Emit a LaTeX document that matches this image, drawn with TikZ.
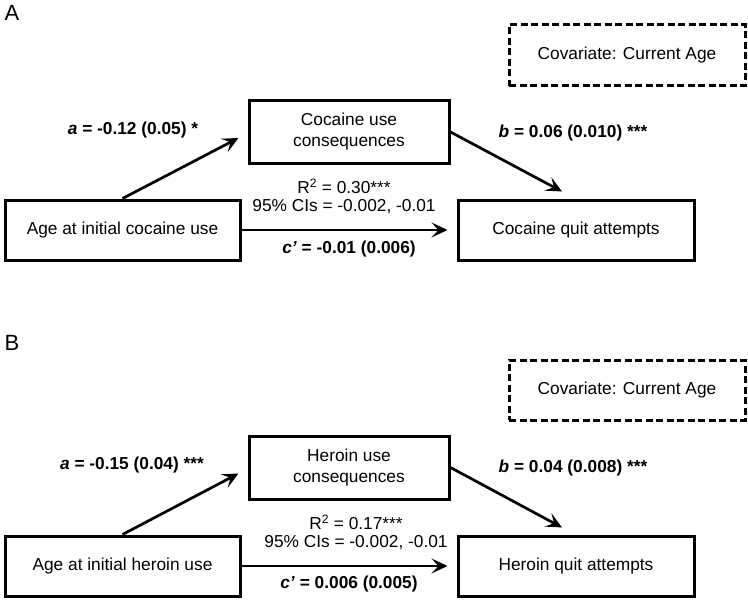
\documentclass[tikz,border=0pt]{standalone}
\usepackage{fontspec}
\setmainfont{Liberation Sans}
\usetikzlibrary{arrows.meta,calc}
\begin{document}
\begin{tikzpicture}[x=1pt,y=-1pt,
  box/.style={draw,line width=3pt,inner sep=0pt,align=center,font=\fontsize{17.3}{21}\selectfont},
  covbox/.style={box,dashed,dash pattern=on 7pt off 3.5pt},
  lab/.style={inner sep=0pt,font=\fontsize{17.3}{21}\selectfont\bfseries},
  stat/.style={inner sep=0pt,align=center,font=\fontsize{17.3}{21}\selectfont},
  panel/.style={inner sep=0pt,font=\fontsize{22}{24}\selectfont},
  arr/.style={line width=2.7pt,-{Stealth[length=16pt,width=15pt,inset=7pt]}}]
\useasboundingbox (0,0) rectangle (748,600);

% ---------- Panel A ----------
\node[panel] (pA) at (12,13) {A};
\node[covbox,minimum width=236pt,minimum height=61pt] (covA) at (627,55) {Covariate: Current Age};
\node[box,minimum width=200pt,minimum height=63pt] (mA) at (349,132) {Cocaine use\\consequences};
\node[box,minimum width=235pt,minimum height=60pt] (xA) at (122.5,230) {Age at initial cocaine use};
\node[box,minimum width=236pt,minimum height=60pt] (yA) at (576,230) {Cocaine quit attempts};
\draw[arr] (xA.north) -- ([xshift=-9pt,yshift=-6pt]mA.west);
\draw[arr] (mA.east) -- ([xshift=-14pt,yshift=7pt]yA.north);
\draw[arr] (xA.east) -- ([xshift=-9pt]yA.west);
\node[lab] (aA) at (133,130) {\textit{a} = -0.12 (0.05) *};
\node[lab] (bA) at (573,133) {\textit{b} = 0.06 (0.010) ***};
\node[stat] (rA) at (344,186) {R\textsuperscript{2} = 0.30***};
\node[stat] (ciA) at (344,207) {95\% CIs = -0.002, -0.01};
\node[lab] (cA) at (349,249) {\textit{c’} = -0.01 (0.006)};

% ---------- Panel B ----------
\node[panel] (pB) at (12,343) {B};
\node[covbox,minimum width=236pt,minimum height=60pt] (covB) at (627,390) {Covariate: Current Age};
\node[box,minimum width=200pt,minimum height=63pt] (mB) at (349,467.5) {Heroin use\\consequences};
\node[box,minimum width=235pt,minimum height=60pt] (xB) at (122.5,566) {Age at initial heroin use};
\node[box,minimum width=236pt,minimum height=60pt] (yB) at (576,566) {Heroin quit attempts};
\draw[arr] (xB.north) -- ([xshift=-9pt,yshift=-6pt]mB.west);
\draw[arr] (mB.east) -- ([xshift=-14pt,yshift=7pt]yB.north);
\draw[arr] (xB.east) -- ([xshift=-9pt]yB.west);
\node[lab] (aB) at (132,465) {\textit{a} = -0.15 (0.04) ***};
\node[lab] (bB) at (573,468) {\textit{b} = 0.04 (0.008) ***};
\node[stat] (rB) at (356,522) {R\textsuperscript{2} = 0.17***};
\node[stat] (ciB) at (356,543) {95\% CIs = -0.002, -0.01};
\node[lab] (cB) at (349,584) {\textit{c’} = 0.006 (0.005)};
\end{tikzpicture}
\end{document}
